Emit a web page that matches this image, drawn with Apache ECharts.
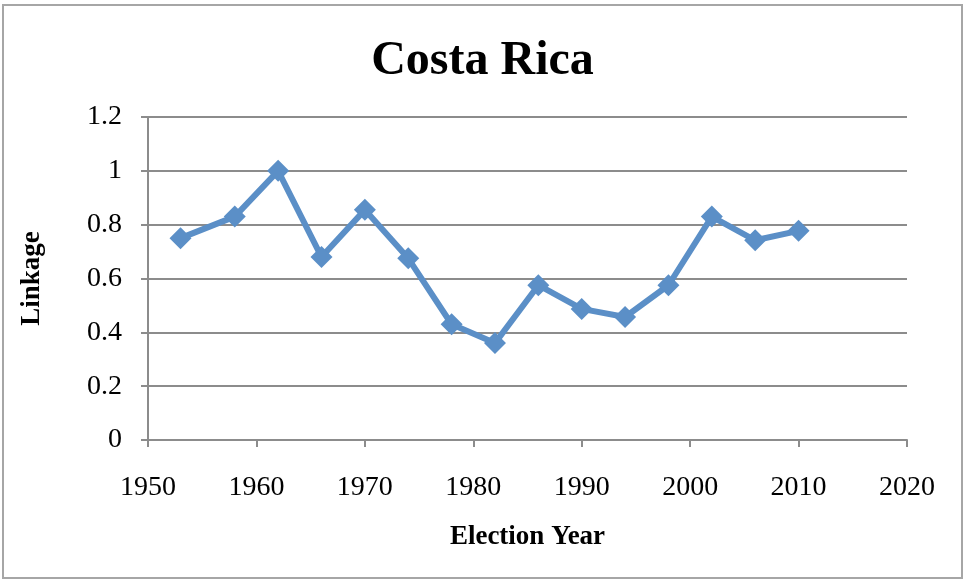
<!DOCTYPE html>
<html>
<head>
<meta charset="utf-8">
<script src="https://cdn.jsdelivr.net/npm/echarts@6/dist/echarts.min.js"></script>
<style>
html,body{margin:0;padding:0;background:#fff;}
#chart{width:965px;height:581px;}
</style>
</head>
<body>
<div id="chart"></div>
<script>
var titleText = "Costa Rica";
var xAxisName = "Election Year";
var yAxisName = "Linkage";
var years = [1953, 1958, 1962, 1966, 1970, 1974, 1978, 1982, 1986, 1990, 1994, 1998, 2002, 2006, 2010];
var linkage = [0.75, 0.83, 1.0, 0.68, 0.855, 0.675, 0.43, 0.36, 0.575, 0.487, 0.457, 0.575, 0.83, 0.742, 0.777];

var pairs = years.map(function (y, i) { return [y, linkage[i]]; });
var serif = "'Liberation Serif', 'Times New Roman', serif";

var chart = echarts.init(document.getElementById('chart'), null, { renderer: 'canvas' });
chart.setOption({
  animation: false,
  backgroundColor: '#ffffff',
  title: {
    text: titleText,
    left: 'center',
    top: 33,
    textStyle: { fontFamily: serif, fontWeight: 'bold', fontSize: 48, color: '#000' }
  },
  graphic: [{
    type: 'rect',
    shape: { x: 3, y: 5, width: 959, height: 573 },
    style: { fill: 'none', stroke: '#a6a6a6', lineWidth: 2 },
    silent: true
  }],
  grid: { left: 148, right: 58, top: 117, bottom: 141 },
  xAxis: {
    type: 'value',
    min: 1950, max: 2020, interval: 10,
    name: xAxisName,
    nameLocation: 'middle',
    nameGap: 84,
    nameTextStyle: { fontFamily: serif, fontWeight: 'bold', fontSize: 27, color: '#000' },
    axisLine: { show: true, onZero: false, lineStyle: { color: '#8c8c8c', width: 2 } },
    axisTick: { show: true, length: 7, lineStyle: { color: '#8c8c8c', width: 2 } },
    axisLabel: { fontFamily: serif, fontSize: 28, color: '#000', margin: 34,
      formatter: function (v) { return String(v); } },
    splitLine: { show: false }
  },
  yAxis: {
    type: 'value',
    min: 0, max: 1.2, interval: 0.2,
    name: yAxisName,
    nameLocation: 'middle',
    nameGap: 102,
    nameTextStyle: { fontFamily: serif, fontWeight: 'bold', fontSize: 27, color: '#000' },
    axisLine: { show: true, lineStyle: { color: '#8c8c8c', width: 2 } },
    axisTick: { show: true, length: 7, lineStyle: { color: '#8c8c8c', width: 2 } },
    axisLabel: { fontFamily: serif, fontSize: 28, color: '#000', margin: 26,
      formatter: function (v) { return String(Math.round(v * 10) / 10); } },
    splitLine: { show: true, lineStyle: { color: '#8c8c8c', width: 2 } }
  },
  series: [{
    type: 'line',
    data: pairs,
    symbol: 'diamond',
    symbolSize: 22,
    lineStyle: { color: '#5b8fc7', width: 6 },
    itemStyle: { color: '#5b8fc7' }
  }]
});
</script>
</body>
</html>
